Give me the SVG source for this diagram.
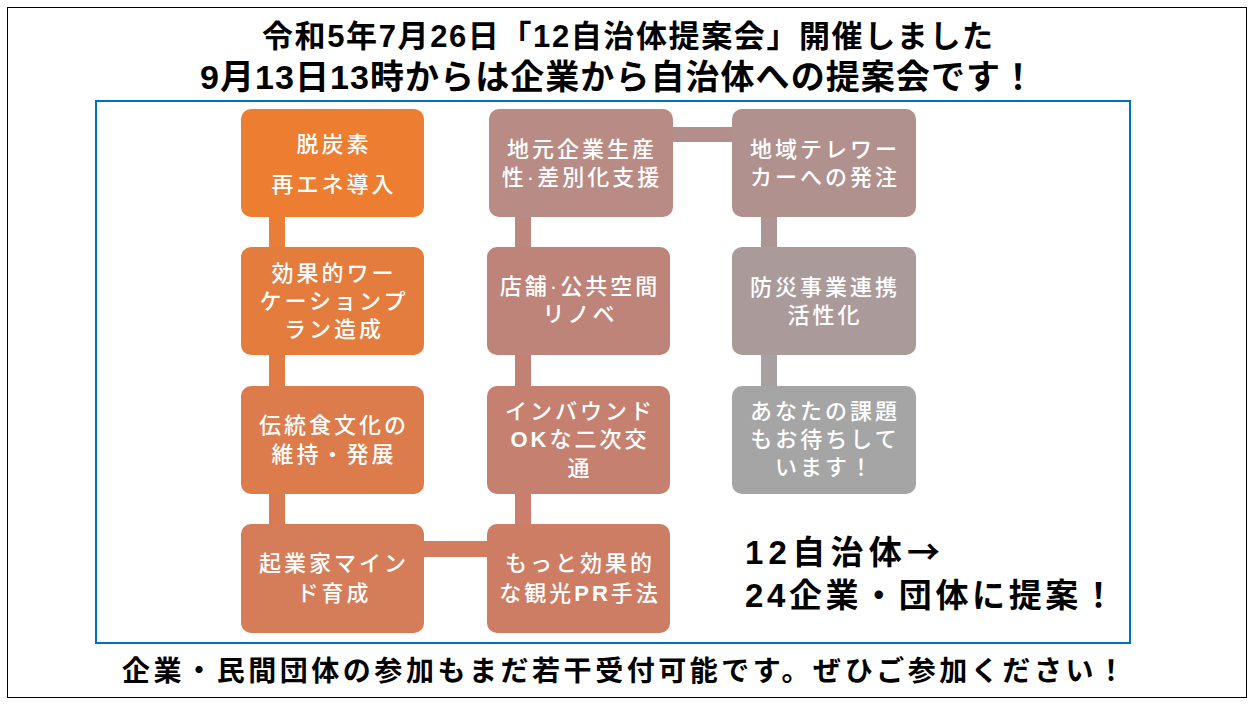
<svg xmlns="http://www.w3.org/2000/svg" width="1254" height="706" viewBox="0 0 1254 706">
<style>
.ttl{font-family:"Liberation Sans","Noto Sans CJK JP","Noto Sans CJK SC",sans-serif;font-weight:700;fill:#000}
.nt{font-family:"Liberation Sans","Noto Sans CJK JP","Noto Sans CJK SC",sans-serif;font-weight:500;font-size:22px;fill:#fff;text-anchor:middle;letter-spacing:3px}
.nb{font-weight:700}
.cjk{font-family:"Noto Sans CJK JP",sans-serif}
</style>
<rect width="1254" height="706" fill="#fff"/>
<rect x="7.5" y="7.5" width="1239" height="690" fill="none" stroke="#000" stroke-width="1"/>
<text class="ttl" x="262" y="47" font-size="31" textLength="731" lengthAdjust="spacing">令和5年7月26日「12自治体提案会」開催しました</text>
<text class="ttl" x="200" y="89" font-size="34" textLength="835" lengthAdjust="spacing">9月13日13時からは企業から自治体への提案会です！</text>
<rect x="96" y="101" width="1034" height="542" fill="none" stroke="#0070C0" stroke-width="2"/>
<g id="connectors">
<rect x="269" y="217" width="16" height="30" fill="#E87E37"/>
<rect x="269" y="355" width="16" height="31" fill="#E07C44"/>
<rect x="269" y="494" width="16" height="30" fill="#D97B52"/>
<rect x="424" y="541" width="63" height="16" fill="#D27C60"/>
<rect x="515" y="494" width="16" height="30" fill="#CA7E6B"/>
<rect x="515" y="355" width="16" height="31" fill="#C18275"/>
<rect x="515" y="217" width="16" height="30" fill="#BB877F"/>
<rect x="672" y="127" width="60" height="15" fill="#B48E8A"/>
<rect x="761" y="217" width="16" height="30" fill="#AE9595"/>
<rect x="761" y="355" width="16" height="31" fill="#A8A0A0"/>
</g>
<g id="n1"><rect x="241" y="109" width="183" height="108" rx="10" fill="#ED7D31"/>
<text class="nt" x="334" y="152">脱炭素</text><text class="nt" x="334" y="192">再エネ導入</text></g>
<g id="n2"><rect x="241" y="247" width="183" height="108" rx="10" fill="#E47C3D"/>
<text class="nt" x="334" y="281">効果的ワー</text><text class="nt" x="334" y="309">ケーションプ</text><text class="nt" x="334" y="337">ラン造成</text></g>
<g id="n3"><rect x="241" y="386" width="183" height="108" rx="10" fill="#DC7B4B"/>
<text class="nt" x="334" y="433">伝統食文化の</text><text class="nt" x="334" y="462">維持・発展</text></g>
<g id="n4"><rect x="241" y="524" width="183" height="109" rx="10" fill="#D57C59"/>
<text class="nt" x="334" y="571">起業家マイン</text><text class="nt" x="334" y="601">ド育成</text></g>
<g id="n5"><rect x="487" y="524" width="183" height="109" rx="10" fill="#CE7D65"/>
<text class="nt" x="580" y="571">もっと効果的</text><text class="nt" x="580" y="601">な観光<tspan class="nb">PR</tspan>手法</text></g>
<g id="n6"><rect x="487" y="386" width="183" height="108" rx="10" fill="#C58070"/>
<text class="nt" x="580" y="419">インバウンド</text><text class="nt" x="580" y="447"><tspan class="nb">OK</tspan>な二次交</text><text class="nt" x="580" y="476">通</text></g>
<g id="n7"><rect x="487" y="247" width="183" height="108" rx="10" fill="#BE847A"/>
<text class="nt" x="580" y="294">店舗·公共空間</text><text class="nt" x="580" y="322">リノベ</text></g>
<g id="n8"><rect x="489" y="109" width="184" height="108" rx="10" fill="#B88B84"/>
<text class="nt" x="582" y="157">地元企業生産</text><text class="nt" x="582" y="185">性·差別化支援</text></g>
<g id="n9"><rect x="732" y="109" width="184" height="108" rx="10" fill="#B0918E"/>
<text class="nt" x="825" y="157">地域テレワー</text><text class="nt" x="825" y="185">カーへの発注</text></g>
<g id="n10"><rect x="732" y="247" width="184" height="108" rx="10" fill="#AB9A9A"/>
<text class="nt" x="825" y="295">防災事業連携</text><text class="nt" x="825" y="323">活性化</text></g>
<g id="n11"><rect x="732" y="386" width="184" height="108" rx="10" fill="#A5A5A5"/>
<text class="nt" x="825" y="419">あなたの課題</text><text class="nt" x="825" y="447">もお待ちして</text><text class="nt" x="825" y="475">います！</text></g>
<text class="ttl" x="745" y="564" font-size="33" textLength="195" lengthAdjust="spacing">12自治体<tspan class="cjk">→</tspan></text>
<text class="ttl" x="745" y="607" font-size="33" textLength="370" lengthAdjust="spacing">24企業・団体に提案！</text>
<text class="ttl" x="122" y="681" font-size="28" textLength="1003" lengthAdjust="spacing">企業・民間団体の参加もまだ若干受付可能です。ぜひご参加ください！</text>
</svg>
